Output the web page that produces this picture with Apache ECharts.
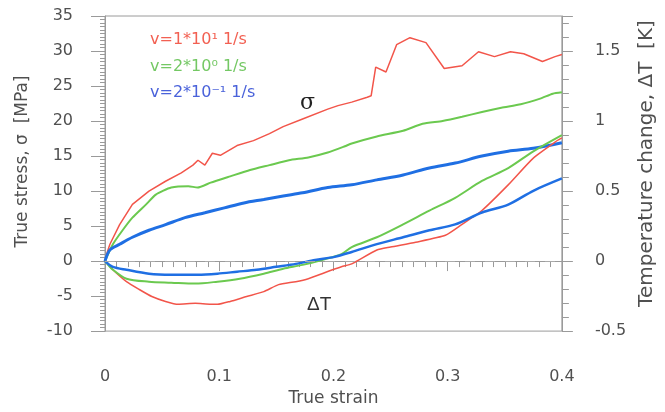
<!DOCTYPE html>
<html>
<head>
<meta charset="utf-8">
<script src="https://cdn.jsdelivr.net/npm/echarts@6/dist/echarts.min.js"></script>
<style>
  html, body { margin: 0; padding: 0; background: #fff; }
</style>
</head>
<body>
<div id="myChart" style="width: 665px; height: 412px;"></div>
<script>
// legend names (one per strain rate)
const rateNames = ["v=1*10¹ 1/s", "v=2*10⁰ 1/s", "v=2*10⁻¹ 1/s"];

// true stress [MPa] vs true strain
const stressRed = [
  [0, 0], [0.002, 1.3], [0.0043, 2.4], [0.0128, 5.2], [0.024, 8.1], [0.0385, 10.0],
  [0.053, 11.4], [0.0668, 12.6], [0.077, 13.7], [0.0814, 14.4], [0.0874, 13.7],
  [0.094, 15.4], [0.101, 15.1], [0.1156, 16.5], [0.13, 17.2], [0.144, 18.2],
  [0.156, 19.2], [0.173, 20.3], [0.195, 21.7], [0.204, 22.2], [0.216, 22.7],
  [0.2296, 23.4], [0.233, 23.6], [0.237, 27.7], [0.246, 27.0], [0.2553, 30.9],
  [0.267, 31.9], [0.281, 31.2], [0.297, 27.5], [0.3126, 27.9], [0.327, 29.9],
  [0.341, 29.2], [0.355, 29.9], [0.3666, 29.6], [0.383, 28.5], [0.394, 29.2], [0.4, 29.5]
];
const stressGreen = [
  [0, 0], [0.0069, 2.4], [0.0154, 4.4], [0.024, 6.2], [0.036, 8.1], [0.0445, 9.5],
  [0.058, 10.5], [0.073, 10.7], [0.081, 10.5], [0.0925, 11.2], [0.1096, 12.1],
  [0.127, 13.0], [0.144, 13.7], [0.161, 14.4], [0.178, 14.8], [0.195, 15.5],
  [0.21, 16.4], [0.216, 16.8], [0.238, 17.8], [0.261, 18.6], [0.278, 19.6],
  [0.2955, 20.0], [0.3126, 20.6], [0.33, 21.3], [0.347, 21.9], [0.364, 22.4],
  [0.381, 23.2], [0.392, 23.9], [0.4, 24.1]
];
const stressBlue = [
  [0, 0], [0.0043, 1.6], [0.0128, 2.4], [0.024, 3.4], [0.0385, 4.4], [0.053, 5.2],
  [0.07, 6.2], [0.0874, 6.9], [0.1045, 7.6], [0.1216, 8.3], [0.139, 8.8],
  [0.156, 9.3], [0.173, 9.75], [0.195, 10.5], [0.216, 10.9], [0.238, 11.6],
  [0.261, 12.3], [0.284, 13.3], [0.3066, 14.0], [0.33, 15.0], [0.353, 15.7],
  [0.375, 16.1], [0.4, 16.9]
];

// temperature change [K] vs true strain
const tempRed = [
  [0, 0], [0.0069, -0.062], [0.0188, -0.147], [0.03, -0.203], [0.041, -0.253],
  [0.053, -0.288], [0.064, -0.309], [0.079, -0.302], [0.0925, -0.309], [0.0985, -0.309],
  [0.1096, -0.288], [0.124, -0.253], [0.139, -0.218], [0.152, -0.168], [0.167, -0.147],
  [0.178, -0.126], [0.19, -0.09], [0.207, -0.041], [0.216, -0.02], [0.238, 0.079],
  [0.25, 0.1], [0.272, 0.135], [0.298, 0.184], [0.3126, 0.262], [0.33, 0.361],
  [0.353, 0.544], [0.375, 0.735], [0.396, 0.861], [0.4, 0.88]
];
const tempGreen = [
  [0, 0], [0.0069, -0.062], [0.0188, -0.126], [0.0385, -0.147], [0.058, -0.154],
  [0.079, -0.161], [0.0985, -0.147], [0.118, -0.126], [0.139, -0.09], [0.156, -0.055],
  [0.173, -0.027], [0.19, 0.008], [0.207, 0.05], [0.216, 0.1], [0.238, 0.17],
  [0.261, 0.262], [0.284, 0.36], [0.3066, 0.452], [0.33, 0.572], [0.353, 0.664],
  [0.375, 0.784], [0.4, 0.9]
];
const tempBlue = [
  [0, 0], [0.0069, -0.041], [0.0188, -0.062], [0.0385, -0.09], [0.058, -0.097],
  [0.081, -0.097], [0.0985, -0.09], [0.1156, -0.076], [0.1328, -0.062], [0.15, -0.041],
  [0.167, -0.02], [0.184, 0.008], [0.201, 0.03], [0.216, 0.065], [0.238, 0.121],
  [0.261, 0.17], [0.284, 0.22], [0.3066, 0.262], [0.33, 0.347], [0.353, 0.403],
  [0.375, 0.502], [0.4, 0.59]
];

const colors = ["#f2554a", "#6bc94f", "#1f6fe3"];
const legendColors = ["#f26052", "#74c864", "#4a62da"];
const axisColor = "#9a9a9a";
const textColor = "#505050";
const font = "DejaVu Sans";

const myChart = echarts.init(document.getElementById("myChart"));

function line(name, data, axis, color, width, smooth) {
  return {
    name: name,
    type: "line",
    yAxisIndex: axis,
    data: data,
    symbol: "none",
    smooth: smooth,
    lineStyle: { color: color, width: width },
    itemStyle: { color: color },
    silent: true
  };
}

const series = [
  line(rateNames[0], stressRed, 0, colors[0], 1.5, false),
  line(rateNames[1], stressGreen, 0, colors[1], 2, 0.2),
  line(rateNames[2], stressBlue, 0, colors[2], 3, 0.3),
  line(rateNames[0], tempRed, 1, colors[0], 1.5, 0.2),
  line(rateNames[1], tempGreen, 1, colors[1], 2, 0.3),
  line(rateNames[2], tempBlue, 1, colors[2], 2.5, 0.3)
];
// dashed zero line
series[2].markLine = {
  silent: true,
  symbol: "none",
  label: { show: false },
  lineStyle: { color: "#aaaaaa", type: [10, 10], width: 1.2 },
  data: [{ yAxis: 0 }]
};

myChart.setOption({
  animation: false,
  textStyle: { fontFamily: font },
  legend: {
    orient: "vertical",
    left: 140,
    top: 26,
    icon: "none",
    itemWidth: 0,
    itemHeight: 18,
    itemGap: 9.5,
    selectedMode: false,
    textStyle: { fontSize: 16, fontFamily: font },
    data: rateNames.map(function (n, i) {
      return { name: n, textStyle: { color: legendColors[i] } };
    })
  },
  grid: {
    left: 105,
    right: 93,
    top: 16,
    bottom: 77,
    show: true,
    borderColor: axisColor,
    borderWidth: 1
  },
  xAxis: {
    type: "value",
    min: 0,
    max: 0.4,
    interval: 0.1,
    name: "True strain",
    nameLocation: "middle",
    nameGap: 58,
    nameTextStyle: { fontSize: 17, color: textColor, fontFamily: font },
    axisLine: { lineStyle: { color: axisColor } },
    axisTick: { inside: false, length: 10, lineStyle: { color: axisColor } },
    minorTick: { show: true, splitNumber: 10, length: 6, lineStyle: { color: axisColor } },
    axisLabel: { margin: 38, fontSize: 16, color: textColor },
    splitLine: { show: false }
  },
  yAxis: [
    {
      type: "value",
      position: "left",
      min: -10,
      max: 35,
      interval: 5,
      name: "True stress, σ  [MPa]",
      nameLocation: "middle",
      nameRotate: 90,
      nameGap: 74,
      nameTextStyle: { fontSize: 17, color: textColor, fontFamily: font, padding: [0, 0, 0, 24] },
      axisLine: { show: true, lineStyle: { color: axisColor } },
      axisTick: { inside: false, length: 14, lineStyle: { color: axisColor } },
      minorTick: { show: true, splitNumber: 10, length: 5, lineStyle: { color: axisColor } },
      axisLabel: { margin: 32, fontSize: 16, color: textColor },
      splitLine: { show: false }
    },
    {
      type: "value",
      position: "right",
      min: -0.5,
      max: 1.75,
      interval: 0.5,
      name: "Temperature change, ΔT  [K]",
      nameLocation: "middle",
      nameRotate: 90,
      nameGap: 66,
      nameTextStyle: { fontSize: 20, color: textColor, fontFamily: font, padding: [0, 0, 0, 20] },
      axisLine: { show: true, lineStyle: { color: axisColor } },
      axisTick: { inside: false, length: 11, lineStyle: { color: axisColor } },
      minorTick: { show: true, splitNumber: 5, length: 7, lineStyle: { color: axisColor } },
      axisLabel: { margin: 33, fontSize: 16, color: textColor, showMaxLabel: false },
      splitLine: { show: false }
    }
  ],
  graphic: [
    {
      type: "text",
      left: 300,
      top: 92,
      style: { text: "σ", font: "22px 'DejaVu Serif'", fill: "#222" }
    },
    {
      type: "text",
      left: 307,
      top: 295,
      style: { text: "ΔT", font: "19px 'Liberation Sans'", fill: "#333" }
    }
  ],
  series: series
});
</script>
</body>
</html>
